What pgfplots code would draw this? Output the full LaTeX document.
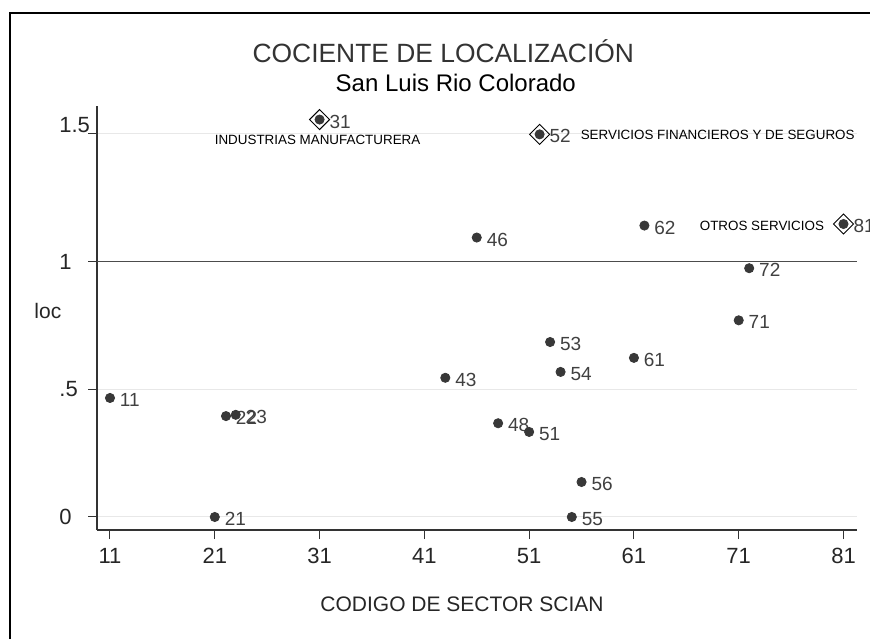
\documentclass[border=0pt]{standalone}
\usepackage{fontspec}
\setmainfont{Liberation Sans}
\usepackage{graphicx}
\usepackage{pgfplots}
\usepackage{pgfplotstable}
\pgfplotsset{compat=1.18}

\pgfplotstableread{
x y lab
11 0.466 11
21 0.0 21
22.07 0.395 22
23 0.40 23
31 1.556 31
43 0.545 43
46 1.094 46
48.04 0.367 48
51 0.333 51
52 1.498 52
53 0.685 53
54 0.568 54
55.07 0.0 55
56 0.137 56
61 0.623 61
62 1.141 62
71 0.770 71
72 0.974 72
81 1.147 81
}\datatable

\pgfplotstableread{
x y
31 1.556
52 1.498
81 1.147
}\hightable

\begin{document}
\begin{tikzpicture}
\useasboundingbox (0,0) rectangle (435pt,-319.5pt);
\fill[white] (0,0) rectangle (435pt,-319.5pt);
\draw[line width=1pt] (5pt,-319.5pt) -- (5pt,-6.67pt) -- (435pt,-6.67pt);
\begin{axis}[
  at={(48.5pt,-265pt)}, anchor=south west,
  scale only axis, width=379.85pt, height=212pt,
  xmin=9.76, xmax=82.26, ymin=-0.051, ymax=1.609,
  clip=false,
  axis lines*=left,
  axis line style={-, black!80, line width=0.6pt},
  tick align=outside, major tick length=4.5pt,
  tick style={black!80, line width=0.5pt},
  xtick={11,21,31,41,51,61,71,81},
  xticklabels={11,21,31,41,51,61,71,81},
  ytick={0,0.5,1,1.5},
  yticklabels={0,.5,1,\raisebox{4.6pt}{1.5}},
  /pgf/number format/assume math mode=true,
  xticklabel style={font=\fontsize{11}{13}\selectfont, text=black!85, inner sep=0pt, anchor=north, yshift=-4.5pt},
  yticklabel style={font=\fontsize{11}{13}\selectfont, text=black!85, inner sep=0pt, anchor=base west, xshift=-14.5pt, yshift=-3.85pt},
  ymajorgrids, major grid style={black!9, line width=0.5pt},
]
\draw[black!70, line width=0.6pt] (axis cs:9.76,1) -- (axis cs:82.26,1);
\addplot[only marks, mark=square, mark size=3.54pt,
  mark options={rotate=45, draw=black, line width=0.5pt, fill=none}] table[x=x,y=y] \hightable;
\addplot[only marks, mark=*, mark size=2.3pt,
  mark options={fill=black!78, draw=black!78, line width=0.4pt},
  nodes near coords, point meta=explicit symbolic,
  nodes near coords style={anchor=west, inner sep=0pt, xshift=4.8pt, yshift=-1pt,
    font=\fontsize{9.5}{11}\selectfont, text=black!75}]
  table[x=x,y=y,meta=lab] \datatable;
\node[anchor=base, font=\fontsize{6.7}{8}\selectfont] at (axis cs:30.81,1.4565) {INDUSTRIAS MANUFACTURERA};
\node[anchor=base, font=\fontsize{6.7}{8}\selectfont] at (axis cs:68.99,1.479) {SERVICIOS FINANCIEROS Y DE SEGUROS};
\node[anchor=base, font=\fontsize{6.7}{8}\selectfont] at (axis cs:73.21,1.1198) {OTROS SERVICIOS};
\end{axis}
\node[anchor=base, font=\fontsize{13.2}{15}\selectfont, text=black!80] at (221.65pt,-31.35pt) {COCIENTE DE LOCALIZACIÓN};
\node[anchor=base, font=\fontsize{12}{14}\selectfont] at (227.9pt,-45.85pt) {San Luis Rio Colorado};
\node[anchor=base, font=\fontsize{10.5}{12}\selectfont, text=black!85] at (231pt,-305.85pt) {CODIGO DE SECTOR SCIAN};
\node[anchor=base, font=\fontsize{10.5}{12}\selectfont, text=black!85] at (23.95pt,-159.15pt) {loc};
\end{tikzpicture}
\end{document}
